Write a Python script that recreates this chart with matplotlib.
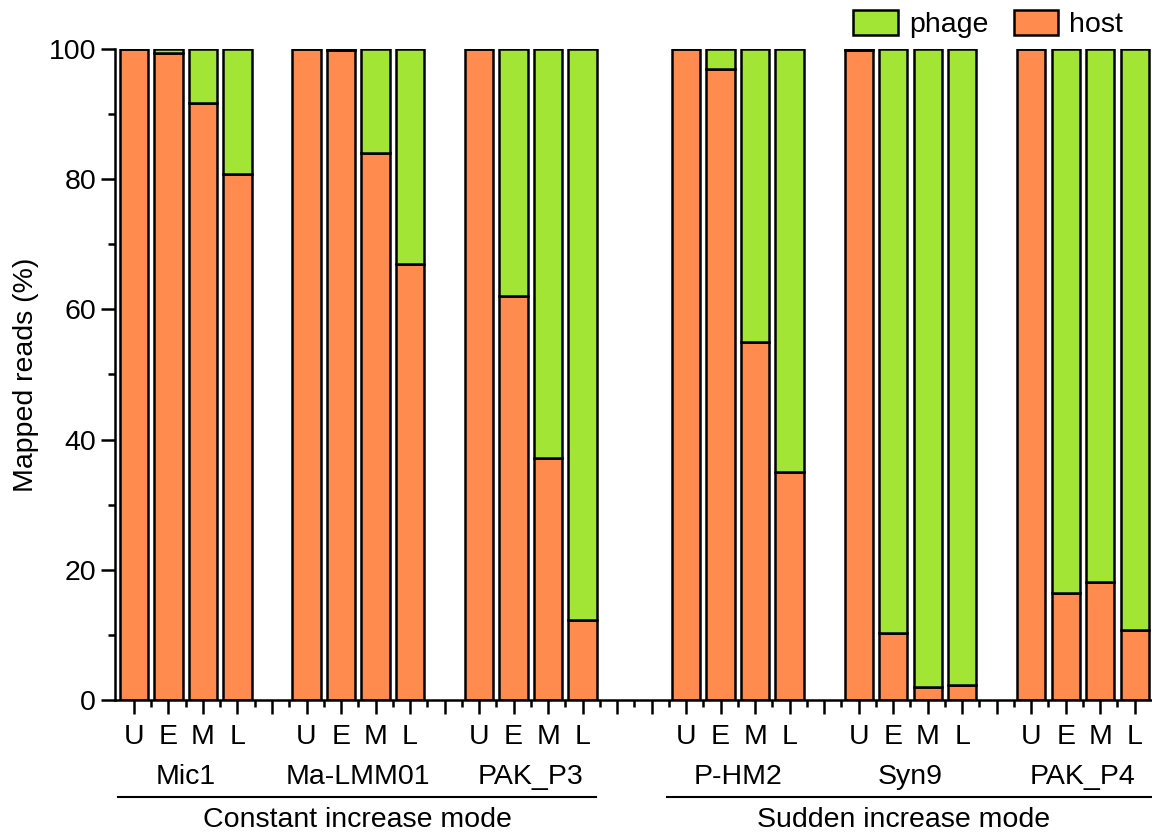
import numpy as np
import matplotlib.pyplot as plt
import matplotlib.transforms as mtransforms
from matplotlib.patches import Patch

plt.rcParams['font.family'] = ['Liberation Sans', 'DejaVu Sans']

# data: host share of mapped reads (%), phage = 100 - host
stages = ['U', 'E', 'M', 'L']
phages = ['Mic1', 'Ma-LMM01', 'PAK_P3', 'P-HM2', 'Syn9', 'PAK_P4']
modes = ['Constant increase mode', 'Sudden increase mode']
host = [
    [100.0, 99.4, 91.7, 80.8],   # Mic1
    [100.0, 99.8, 84.0, 67.0],   # Ma-LMM01
    [100.0, 62.0, 37.2, 12.3],   # PAK_P3
    [100.0, 96.9, 55.0, 35.0],   # P-HM2
    [99.8, 10.3, 2.0, 2.3],      # Syn9
    [100.0, 16.4, 18.2, 10.8],   # PAK_P4
]
group_start = [0, 5, 10, 16, 21, 26]   # slot of each group's first bar

host_col = '#FF8C4E'
phage_col = '#A2E535'
fs = 20.5

fig = plt.figure(figsize=(11.52, 8.35), dpi=100)
ax = fig.add_axes([0.0998, 0.1617, 0.9002, 0.7796])

for g, start in enumerate(group_start):
    x = start + np.arange(len(stages))
    h = np.array(host[g])
    ax.bar(x, h, width=0.82, color=host_col, edgecolor='black', linewidth=1.8, zorder=2)
    ax.bar(x, 100 - h, bottom=h, width=0.82, color=phage_col, edgecolor='black',
           linewidth=1.8, zorder=2)

ax.set_xlim(-0.55, 29.5)
ax.set_ylim(0, 100)
ax.set_ylabel('Mapped reads (%)', fontsize=fs, labelpad=7)

for s in ['top', 'right']:
    ax.spines[s].set_visible(False)
for s in ['left', 'bottom']:
    ax.spines[s].set_linewidth(1.8)

ax.set_yticks(np.arange(0, 101, 20))
ax.set_yticks(np.arange(10, 100, 20), minor=True)

slots = np.arange(0, 30)
labels = [''] * len(slots)
for start in group_start:
    for k, st in enumerate(stages):
        labels[start + k] = st
ax.set_xticks(slots)
ax.set_xticklabels(labels)
ax.set_xticks(slots[:-1] + 0.5, minor=True)

ax.tick_params(axis='both', which='major', direction='out', length=10, width=1.8,
               labelsize=fs)
ax.tick_params(axis='both', which='minor', direction='out', length=5, width=1.8)
ax.tick_params(axis='x', which='major', pad=7)

trans = mtransforms.blended_transform_factory(ax.transData, ax.transAxes)
for g, start in enumerate(group_start):
    ax.text(start + 1.5, -0.118, phages[g], transform=trans, ha='center', va='center',
            fontsize=fs)

mode_spans = [(-0.45, 13.4), (15.45, 29.6)]
for (x0, x1), name in zip(mode_spans, modes):
    ax.plot([x0, x1], [-0.149, -0.149], transform=trans, color='black', lw=1.5,
            clip_on=False)
    ax.text((x0 + x1) / 2 if x1 < 29 else 22.3, -0.185, name, transform=trans,
            ha='center', va='center', fontsize=fs)

handles = [Patch(facecolor=phage_col, edgecolor='black', linewidth=1.8, label='phage'),
           Patch(facecolor=host_col, edgecolor='black', linewidth=1.8, label='host')]
fig.legend(handles=handles, loc='center', bbox_to_anchor=(0.858, 0.971), ncol=2,
           frameon=False, fontsize=fs, handlelength=1.55, handleheight=1.0,
           handletextpad=0.4, columnspacing=0.9)

fig.savefig('out.png', dpi=100)
